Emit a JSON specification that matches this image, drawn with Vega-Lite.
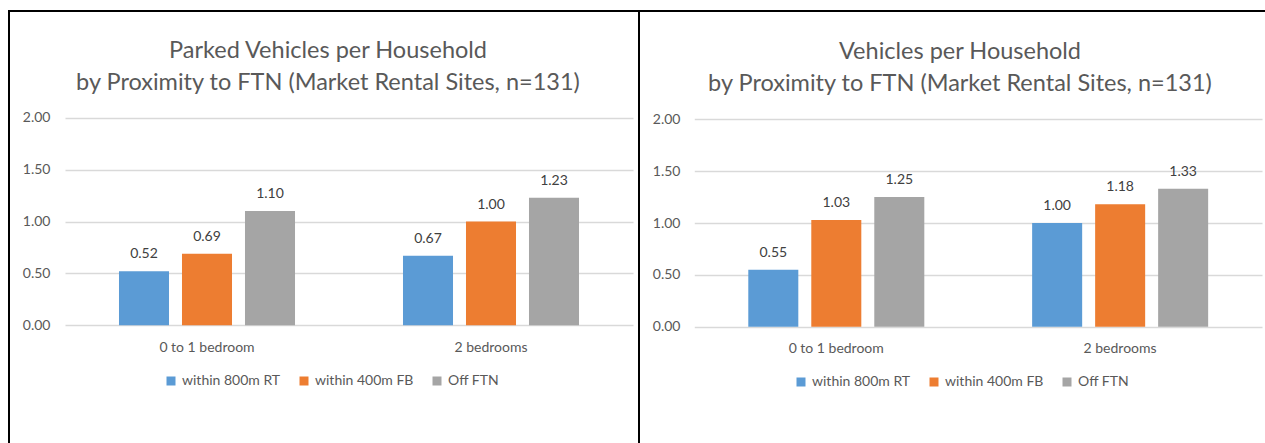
{
  "$schema": "https://vega.github.io/schema/vega-lite/v6.json",
  "padding": {"left": 8, "top": 10, "right": 0, "bottom": 0},
  "background": "#ffffff",
  "datasets": {
    "households": [
      {"chart": "parked", "bedrooms": "0 to 1 bedroom", "proximity": "within 800m RT", "value": 0.52},
      {"chart": "parked", "bedrooms": "0 to 1 bedroom", "proximity": "within 400m FB", "value": 0.69},
      {"chart": "parked", "bedrooms": "0 to 1 bedroom", "proximity": "Off FTN", "value": 1.10},
      {"chart": "parked", "bedrooms": "2 bedrooms", "proximity": "within 800m RT", "value": 0.67},
      {"chart": "parked", "bedrooms": "2 bedrooms", "proximity": "within 400m FB", "value": 1.00},
      {"chart": "parked", "bedrooms": "2 bedrooms", "proximity": "Off FTN", "value": 1.23},
      {"chart": "owned", "bedrooms": "0 to 1 bedroom", "proximity": "within 800m RT", "value": 0.55},
      {"chart": "owned", "bedrooms": "0 to 1 bedroom", "proximity": "within 400m FB", "value": 1.03},
      {"chart": "owned", "bedrooms": "0 to 1 bedroom", "proximity": "Off FTN", "value": 1.25},
      {"chart": "owned", "bedrooms": "2 bedrooms", "proximity": "within 800m RT", "value": 1.00},
      {"chart": "owned", "bedrooms": "2 bedrooms", "proximity": "within 400m FB", "value": 1.18},
      {"chart": "owned", "bedrooms": "2 bedrooms", "proximity": "Off FTN", "value": 1.33}
    ]
  },
  "data": {"name": "households"},
  "spacing": 0,
  "bounds": "flush",
  "resolve": {
    "scale": {"color": "independent", "x": "independent", "y": "independent"},
    "legend": {"color": "independent"}
  },
  "hconcat": [
    {
      "width": 630,
      "height": 450,
      "title": {
        "text": ["Parked Vehicles per Household", "by Proximity to FTN (Market Rental Sites, n=131)"],
        "offset": -83,
        "dx": 4
      },
      "transform": [{"filter": "datum.chart === 'parked'"}],
      "encoding": {
        "x": {
          "field": "bedrooms",
          "type": "nominal",
          "sort": ["0 to 1 bedroom", "2 bedrooms"],
          "scale": {"range": [56, 624], "paddingInner": 0, "paddingOuter": 0},
          "axis": {"title": null, "offset": -135.7}
        },
        "xOffset": {
          "field": "proximity",
          "sort": ["within 800m RT", "within 400m FB", "Off FTN"],
          "scale": {"paddingInner": 0.206, "paddingOuter": 0.857}
        },
        "y": {
          "field": "value",
          "type": "quantitative",
          "scale": {"domain": [0, 2], "range": [314.3, 106.7], "nice": false},
          "axis": {"title": null, "offset": -41}
        }
      },
      "layer": [
        {
          "mark": {"type": "bar"},
          "encoding": {
            "color": {
              "field": "proximity",
              "type": "nominal",
              "sort": ["within 800m RT", "within 400m FB", "Off FTN"],
              "scale": {"domain": ["within 800m RT", "within 400m FB", "Off FTN"], "range": ["#5B9BD5", "#ED7D31", "#A5A5A5"]},
              "legend": {"legendX": 155, "legendY": 363}
            }
          }
        },
        {
          "mark": {"type": "text", "baseline": "middle", "dy": -17, "fontSize": 14, "color": "#404040"},
          "encoding": {"text": {"field": "value", "type": "quantitative", "format": ".2f"}}
        }
      ]
    },
    {
      "width": 630,
      "height": 450,
      "title": {
        "text": ["Vehicles per Household", "by Proximity to FTN (Market Rental Sites, n=131)"],
        "offset": -84,
        "dx": 6
      },
      "transform": [{"filter": "datum.chart === 'owned'"}],
      "encoding": {
        "x": {
          "field": "bedrooms",
          "type": "nominal",
          "sort": ["0 to 1 bedroom", "2 bedrooms"],
          "scale": {"range": [55.3, 623], "paddingInner": 0, "paddingOuter": 0},
          "axis": {"title": null, "offset": -134.3}
        },
        "xOffset": {
          "field": "proximity",
          "sort": ["within 800m RT", "within 400m FB", "Off FTN"],
          "scale": {"paddingInner": 0.206, "paddingOuter": 0.857}
        },
        "y": {
          "field": "value",
          "type": "quantitative",
          "scale": {"domain": [0, 2], "range": [315.7, 108.3], "nice": false},
          "axis": {"title": null, "offset": -41}
        }
      },
      "layer": [
        {
          "mark": {"type": "bar"},
          "encoding": {
            "color": {
              "field": "proximity",
              "type": "nominal",
              "sort": ["within 800m RT", "within 400m FB", "Off FTN"],
              "scale": {"domain": ["within 800m RT", "within 400m FB", "Off FTN"], "range": ["#5B9BD5", "#ED7D31", "#A5A5A5"]},
              "legend": {"legendX": 155, "legendY": 364}
            }
          }
        },
        {
          "mark": {"type": "text", "baseline": "middle", "dy": -17, "fontSize": 14, "color": "#404040"},
          "encoding": {"text": {"field": "value", "type": "quantitative", "format": ".2f"}}
        }
      ]
    }
  ],
  "config": {
    "font": "Lato",
    "view": {"stroke": "#000000", "strokeWidth": 2},
    "title": {
      "fontSize": 23.5,
      "fontWeight": "normal",
      "color": "#595959",
      "lineHeight": 32,
      "anchor": "middle",
      "frame": "group"
    },
    "axis": {
      "labelFont": "Lato",
      "labelFontSize": 14,
      "labelColor": "#595959",
      "ticks": false,
      "tickSize": 0,
      "domain": false,
      "gridColor": "#D9D9D9",
      "gridWidth": 1.3
    },
    "axisX": {"labelPadding": 22, "labelBaseline": "middle", "labelAngle": 0, "grid": false},
    "axisY": {"labelPadding": 0, "tickCount": 5, "format": ".2f", "grid": true},
    "legend": {
      "orient": "none",
      "direction": "horizontal",
      "title": null,
      "symbolType": "square",
      "symbolSize": 81,
      "symbolStrokeWidth": 0,
      "labelFontSize": 14,
      "labelColor": "#595959",
      "labelOffset": 4,
      "columnPadding": 16
    }
  }
}
